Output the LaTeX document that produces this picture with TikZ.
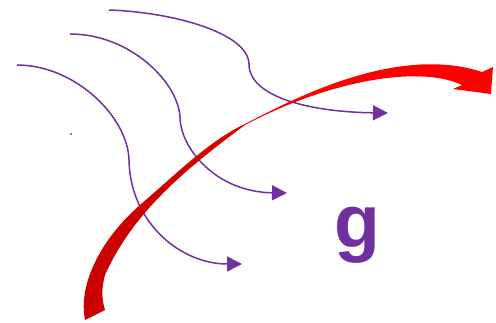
\documentclass[tikz,border=0pt]{standalone}
\usepackage{fontspec}
\usepackage{tikz}
\usetikzlibrary{arrows.meta}
\setmainfont{Liberation Sans}
\definecolor{fieldviolet}{RGB}{112,48,160}
\definecolor{ribbondark}{RGB}{204,0,0}
\definecolor{ribbonlight}{RGB}{255,0,0}
\pgfdeclarehorizontalshading{ribbonfade}{100bp}{color(0bp)=(ribbondark); color(38bp)=(ribbondark); color(52bp)=(ribbonlight); color(100bp)=(ribbonlight)}

\begin{document}
\begin{tikzpicture}[x=1pt,y=1pt,
  fieldline/.style={draw=fieldviolet,line width=1.5pt,-{Triangle[length=15pt,width=15pt]}}]
  \useasboundingbox (0,0) rectangle (496,322);

  % three field lines, top to bottom
  \draw[fieldline] (109,312) .. controls (170,310) and (248,290) .. (249,258)
    .. controls (249,225) and (310,210) .. (388,209);
  \draw[fieldline] (70,288) .. controls (130,288) and (178,240) .. (180,205)
    .. controls (180,175) and (215,130) .. (287,129);
  \draw[fieldline] (17,257) .. controls (75,257) and (128,205) .. (129,162)
    .. controls (130,100) and (180,58) .. (242,58);

  % red ribbon arrow, pinched in the middle
  \shade[shading=ribbonfade]
    (85,2) .. controls (78,37) and (100,82) .. (140,117)
    .. controls (175,147) and (210,182) .. (245,198)
    .. controls (300,227) and (400,277) .. (482,250)
    -- (493,255) -- (491,228) -- (453,233) -- (462,237)
    .. controls (420,257) and (330,242) .. (245,197)
    .. controls (190,156) and (134,112) .. (105,47)
    .. controls (101,32) and (102,22) .. (105,12) -- cycle;

  % dot and label
  \fill (71,188) circle (0.9pt);
  \node[anchor=base,inner sep=0pt,text=fieldviolet,font=\fontsize{75}{80}\selectfont\bfseries] (glabel) at (357,75) {g};
\end{tikzpicture}
\end{document}
